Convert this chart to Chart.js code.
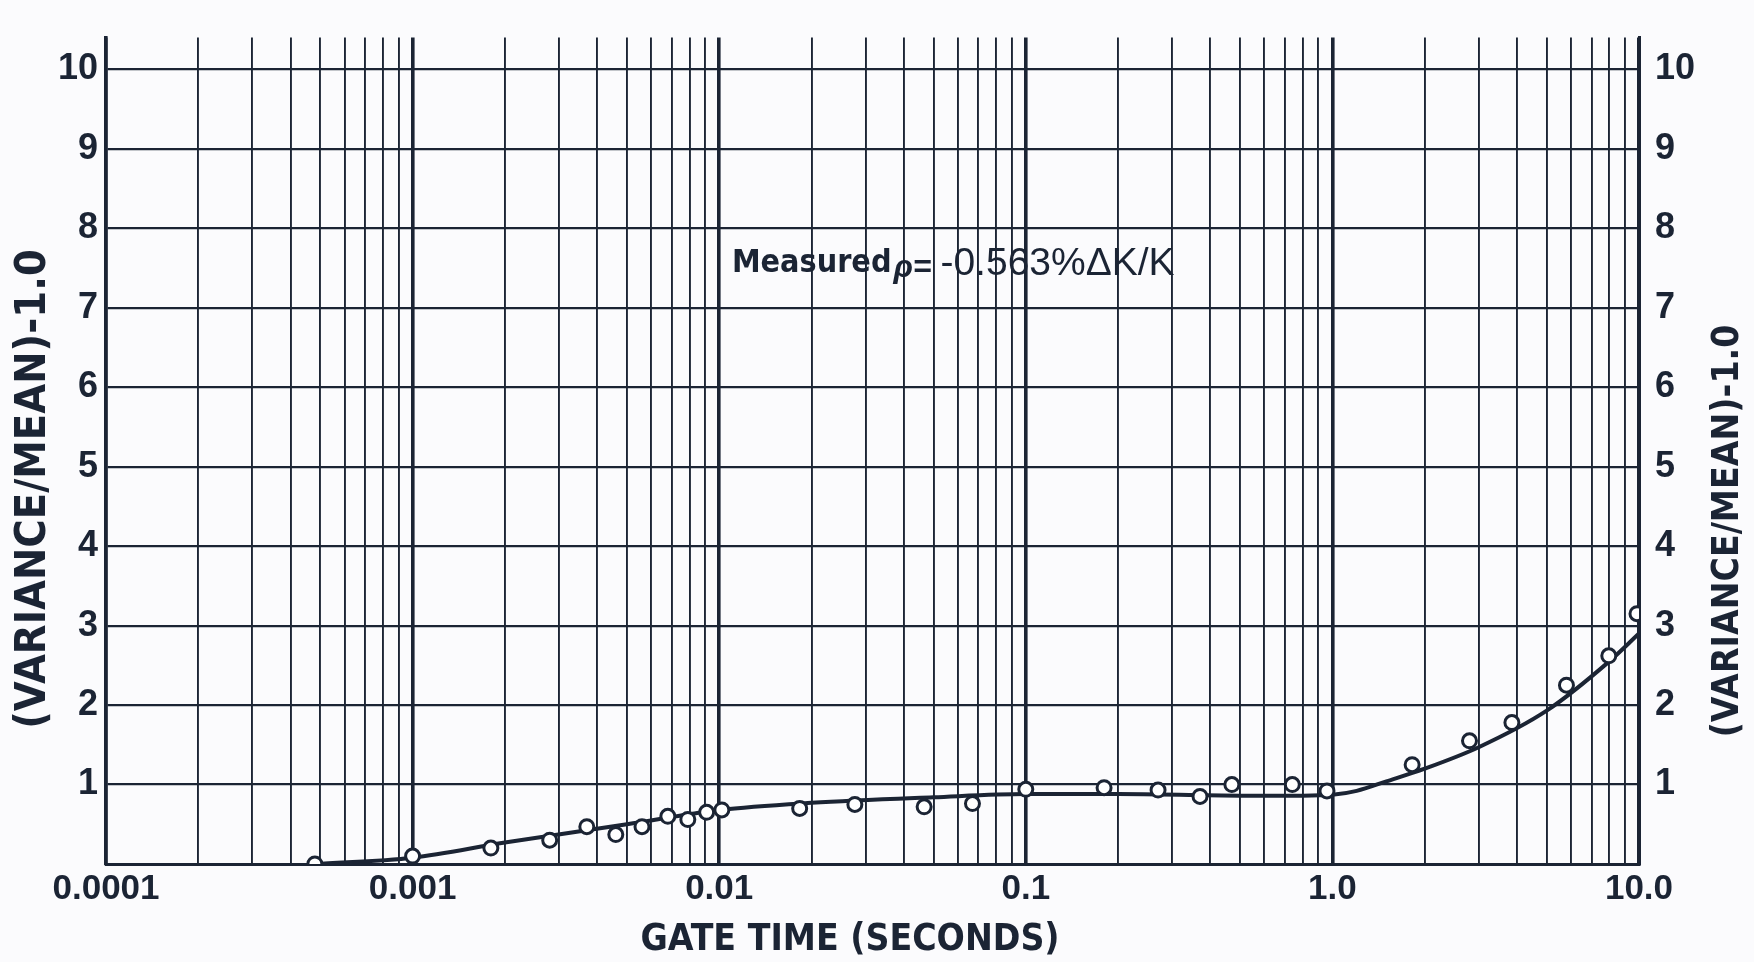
<!DOCTYPE html>
<html>
<head>
<meta charset="utf-8">
<script src="https://cdn.jsdelivr.net/npm/chart.js@4.4.1/dist/chart.umd.min.js"></script>
<style>
  html, body { margin: 0; padding: 0; background: #fbfbfd; }
  #wrap { width: 1754px; height: 962px; position: relative; }
</style>
</head>
<body>
<div id="wrap"><canvas id="c" width="1754" height="962"></canvas></div>
<script>
// ---- data ----
const gateTime = [0.00048, 0.001, 0.0018, 0.0028, 0.0037, 0.0046, 0.0056, 0.0068, 0.0079, 0.0091, 0.0102,
                  0.0183, 0.0277, 0.0466, 0.067, 0.1, 0.18, 0.27, 0.37, 0.47, 0.74, 0.96,
                  1.82, 2.8, 3.85, 5.8, 7.97, 9.85];
const varianceRatio = [0.0, 0.1, 0.2, 0.3, 0.47, 0.37, 0.47, 0.6, 0.56, 0.65, 0.68,
                       0.7, 0.75, 0.72, 0.76, 0.94, 0.96, 0.93, 0.85, 1.0, 1.0, 0.92,
                       1.25, 1.55, 1.78, 2.25, 2.62, 3.15];
const curveTime = [0.00048, 0.001, 0.002, 0.005, 0.01, 0.02, 0.05, 0.1, 0.2, 0.5, 0.8, 1.0, 1.2, 1.5, 2, 3, 5, 8, 10];
const curveRatio = [0.0, 0.08, 0.27, 0.5, 0.68, 0.77, 0.84, 0.88, 0.88, 0.86, 0.86, 0.87, 0.92, 1.04, 1.2, 1.47, 1.93, 2.55, 2.9];

const xDecadeValues = [0.0001, 0.001, 0.01, 0.1, 1, 10];
const xDecadeLabels = ['0.0001', '0.001', '0.01', '0.1', '1.0', '10.0'];
const xMinorMultipliers = [2, 3, 4, 5, 6, 7, 8, 9];
const yTickValues = [0, 1, 2, 3, 4, 5, 6, 7, 8, 9, 10];
const yTickLabels = ['', '1', '2', '3', '4', '5', '6', '7', '8', '9', '10'];

const xTitle = 'GATE TIME (SECONDS)';
const yTitle = '(VARIANCE/MEAN)-1.0';
const noteBold = 'Measured';
const noteRho = 'ρ= ';
const noteValue = '-0.563%ΔK/K';

// ---- styling ----
const INK = '#1b2434';
const COND = '"DejaVu Sans Condensed", "DejaVu Sans", sans-serif';
const SANS = '"Liberation Sans", Arial, sans-serif';

const xGridValues = [];
xDecadeValues.forEach((d, i) => {
  xGridValues.push(d);
  if (i < xDecadeValues.length - 1) xMinorMultipliers.forEach(m => xGridValues.push(d * m));
});

const textPlugin = {
  id: 'texts',
  afterDraw(chart) {
    const ctx = chart.ctx;
    const xs = chart.scales.x, ys = chart.scales.y;
    ctx.save();
    ctx.fillStyle = INK;
    ctx.textAlign = 'center';
    ctx.textBaseline = 'middle';
    // x title
    ctx.font = 'bold 37px ' + COND;
    ctx.fillText(xTitle, 850, 940);
    // left y title
    ctx.save();
    ctx.translate(34, 489);
    ctx.rotate(-Math.PI / 2);
    ctx.font = 'bold 43px ' + COND;
    ctx.fillText(yTitle, 0, 0);
    ctx.restore();
    // right y title
    ctx.save();
    ctx.translate(1728, 531);
    ctx.rotate(-Math.PI / 2);
    ctx.font = 'bold 37px ' + COND;
    ctx.fillText(yTitle, 0, 0);
    ctx.restore();
    // annotation
    let px = xs.getPixelForValue(0.011);
    const py = ys.getPixelForValue(7.55);
    ctx.textAlign = 'left';
    ctx.font = 'bold 32px ' + COND;
    ctx.fillText(noteBold, px, py);
    px += ctx.measureText(noteBold).width + 2;
    ctx.font = 'italic bold 32px ' + SANS;
    ctx.fillText(noteRho, px, py + 4);
    px += ctx.measureText(noteRho).width;
    ctx.font = '39px ' + SANS;
    ctx.fillText(noteValue, px, py);
    ctx.restore();
  }
};

new Chart(document.getElementById('c'), {
  type: 'scatter',
  data: {
    datasets: [
      {
        label: 'measured',
        data: gateTime.map((t, i) => ({ x: t, y: varianceRatio[i] })),
        pointRadius: 7,
        pointHoverRadius: 7,
        pointBorderWidth: 3,
        pointBackgroundColor: '#ffffff',
        pointBorderColor: INK,
        showLine: false,
        order: 0
      },
      {
        label: 'fit',
        data: curveTime.map((t, i) => ({ x: t, y: curveRatio[i] })),
        showLine: true,
        pointRadius: 0,
        borderColor: INK,
        borderWidth: 4,
        cubicInterpolationMode: 'monotone',
        fill: false,
        order: 1
      }
    ]
  },
  options: {
    responsive: false,
    animation: false,
    events: [],
    layout: { padding: { top: 17, left: 0, right: 0, bottom: 0 } },
    plugins: { legend: { display: false }, tooltip: { enabled: false } },
    scales: {
      x: {
        type: 'logarithmic',
        min: 0.0001,
        max: 10,
        afterBuildTicks(scale) { scale.ticks = xGridValues.map(v => ({ value: v })); },
        afterFit(scale) { scale.height = 98; },
        grid: {
          color: INK,
          lineWidth: ctx => (ctx.tick && xDecadeValues.some(d => Math.abs(d - ctx.tick.value) / d < 1e-6)) ? 3.6 : 1.9,
          drawTicks: false
        },
        border: { display: true, color: INK, width: 3 },
        ticks: {
          autoSkip: false,
          maxRotation: 0,
          padding: 4,
          color: INK,
          font: { family: SANS, size: 35, weight: 'bold' },
          callback(v) {
            const i = xDecadeValues.findIndex(d => Math.abs(d - v) / d < 1e-6);
            return i >= 0 ? xDecadeLabels[i] : '';
          }
        }
      },
      y: {
        position: 'left',
        min: 0,
        max: 10.4,
        afterBuildTicks(scale) { scale.ticks = yTickValues.map(v => ({ value: v })); },
        afterFit(scale) { scale.width = 106; },
        grid: { color: INK, lineWidth: 2.2, drawTicks: false },
        border: { display: true, color: INK, width: 3.6 },
        ticks: {
          padding: 8,
          color: INK,
          font: { family: SANS, size: 36, weight: 'bold' },
          callback(v) { const i = yTickValues.indexOf(v); return i >= 0 ? yTickLabels[i] : ''; }
        }
      },
      y2: {
        position: 'right',
        min: 0,
        max: 10.4,
        afterBuildTicks(scale) { scale.ticks = yTickValues.map(v => ({ value: v })); },
        afterFit(scale) { scale.width = 115; },
        grid: { drawOnChartArea: false, drawTicks: false },
        border: { display: true, color: INK, width: 3 },
        ticks: {
          padding: 16,
          color: INK,
          font: { family: SANS, size: 36, weight: 'bold' },
          callback(v) { const i = yTickValues.indexOf(v); return i >= 0 ? yTickLabels[i] : ''; }
        }
      }
    }
  },
  plugins: [textPlugin]
});
</script>
</body>
</html>
